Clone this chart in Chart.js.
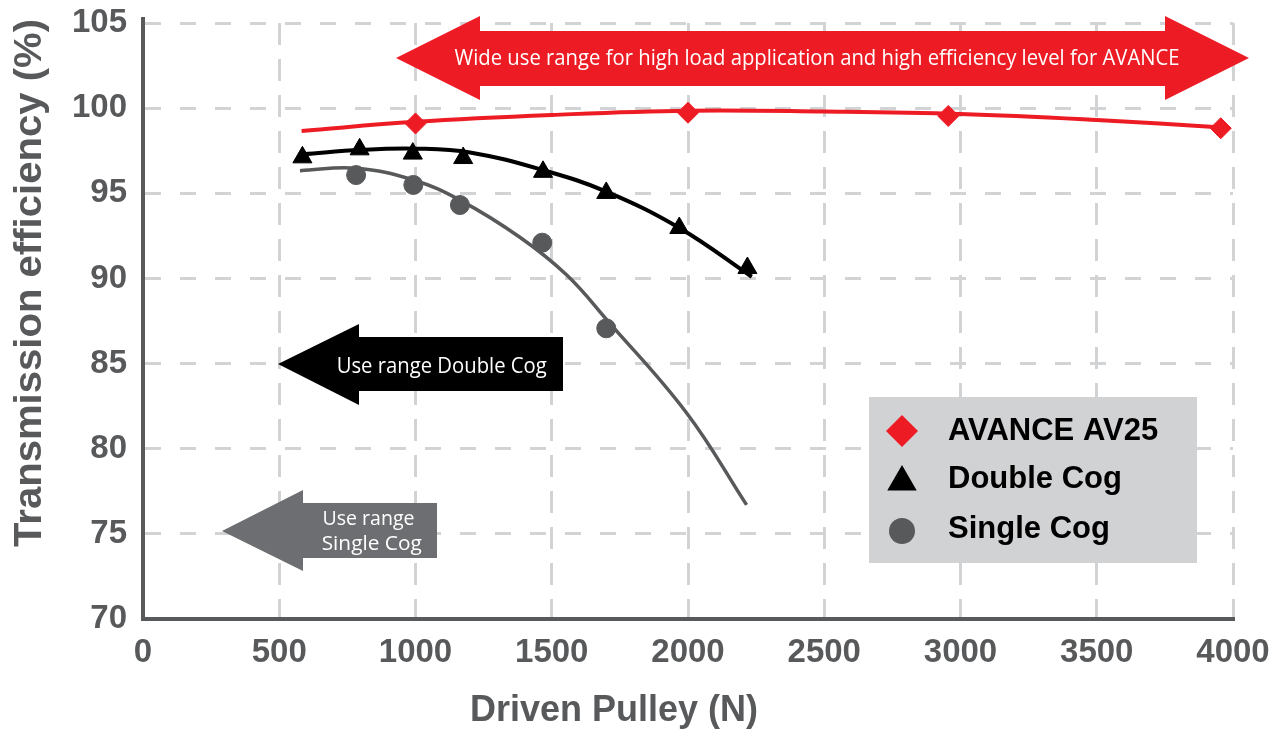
<!DOCTYPE html>
<html><head><meta charset="utf-8">
<script src="https://cdn.jsdelivr.net/npm/chart.js@4.4.1/dist/chart.umd.min.js"></script>
<style>html,body{margin:0;padding:0;background:#fff;overflow:hidden}#wrap{width:1288px;height:729px}</style>
</head><body><div id="wrap"><canvas id="c" width="1288" height="729"></canvas></div>
<script>
// ---- data ----
const seriesNames = ['AVANCE AV25', 'Double Cog', 'Single Cog'];
const xTicks = [0, 500, 1000, 1500, 2000, 2500, 3000, 3500, 4000];
const yTicks = [70, 75, 80, 85, 90, 95, 100, 105];
const xTitle = 'Driven Pulley (N)';
const yTitle = 'Transmission efficiency (%)';

const avanceX = [1000, 2000, 2955, 3955];
const avanceY = [99.1, 99.73, 99.54, 98.82];
const doubleX = [585, 795, 990, 1175, 1468, 1700, 1968, 2218];
const doubleY = [97.11, 97.58, 97.33, 97.07, 96.26, 95.02, 92.96, 90.61];
const singleX = [782, 992, 1163, 1465, 1700];
const singleY = [96.07, 95.49, 94.31, 92.10, 87.07];

// fitted trend curves
const avanceFitX = [582, 1000, 1500, 2000, 2500, 3000, 3500, 3960];
const avanceFitY = [98.66, 99.2, 99.6, 99.85, 99.8, 99.65, 99.3, 98.87];
const doubleFitX = [590, 800, 1000, 1200, 1470, 1700, 1970, 2234];
const doubleFitY = [97.3, 97.55, 97.62, 97.4, 96.35, 95.1, 92.95, 90.1];
const singleFitX = [576, 782, 992, 1163, 1383, 1555, 1702, 1995, 2215];
const singleFitY = [96.33, 96.47, 95.78, 94.6, 92.42, 90.2, 87.57, 82.1, 76.7];

const noteWide = 'Wide use range for high load application and high efficiency level for AVANCE';
const noteDouble = 'Use range Double Cog';
const noteSingle = ['Use range', 'Single Cog'];

// ---- styles ----
const RED = '#ed1c24', BLACK = '#000000', GREY = '#58595b', AXIS = '#58595b', GRID = '#d1d3d4';
const zip = (xs, ys) => xs.map((v, i) => ({x: v, y: ys[i]}));

function markerPath(ctx, style, x, y, r) {
  ctx.beginPath();
  if (style === 'rectRot') {
    ctx.moveTo(x, y - r); ctx.lineTo(x + r, y); ctx.lineTo(x, y + r); ctx.lineTo(x - r, y);
  } else if (style === 'triangle') {
    for (let k = 0; k < 3; k++) {
      const a = k * 2 * Math.PI / 3;
      const px = x + Math.sin(a) * r, py = y - Math.cos(a) * r;
      k ? ctx.lineTo(px, py) : ctx.moveTo(px, py);
    }
  } else {
    ctx.arc(x, y, r, 0, Math.PI * 2);
  }
  ctx.closePath();
}

function fitText(ctx, text, x, baseY, font, targetW, align) {
  ctx.font = font;
  const w = ctx.measureText(text).width;
  const s = targetW / w;
  ctx.save();
  ctx.translate(x, baseY);
  ctx.scale(s, 1);
  ctx.textAlign = align || 'center';
  ctx.textBaseline = 'alphabetic';
  ctx.fillText(text, 0, 0);
  ctx.restore();
}

const decor = {
  id: 'decor',
  beforeDatasetsDraw(chart) {
    const ctx = chart.ctx;
    ctx.save();
    ctx.fillStyle = AXIS;
    ctx.fillRect(chart.chartArea.left - 2, chart.chartArea.top - 6, 4, 8);
    // red double arrow
    ctx.fillStyle = RED;
    ctx.beginPath();
    ctx.moveTo(396, 58); ctx.lineTo(480, 16); ctx.lineTo(480, 31); ctx.lineTo(1165, 31);
    ctx.lineTo(1165, 16); ctx.lineTo(1249, 58); ctx.lineTo(1165, 100); ctx.lineTo(1165, 86);
    ctx.lineTo(480, 86); ctx.lineTo(480, 100); ctx.closePath(); ctx.fill();
    ctx.fillStyle = '#ffffff';
    fitText(ctx, noteWide, 817, 65, '22px "Open Sans"', 725);
    // black arrow
    ctx.fillStyle = BLACK;
    ctx.beginPath();
    ctx.moveTo(278, 364); ctx.lineTo(359, 324); ctx.lineTo(359, 337); ctx.lineTo(563, 337);
    ctx.lineTo(563, 391); ctx.lineTo(359, 391); ctx.lineTo(359, 405); ctx.closePath(); ctx.fill();
    ctx.fillStyle = '#ffffff';
    fitText(ctx, noteDouble, 441.7, 373, '22px "Open Sans"', 210);
    // grey arrow
    ctx.fillStyle = '#6d6e71';
    ctx.beginPath();
    ctx.moveTo(222, 531); ctx.lineTo(303, 490); ctx.lineTo(303, 503); ctx.lineTo(437, 503);
    ctx.lineTo(437, 558); ctx.lineTo(303, 558); ctx.lineTo(303, 571); ctx.closePath(); ctx.fill();
    ctx.fillStyle = '#ffffff';
    fitText(ctx, noteSingle[0], 322.5, 525, '20px "Open Sans"', 92, 'left');
    fitText(ctx, noteSingle[1], 321.7, 550, '20px "Open Sans"', 100, 'left');
    ctx.restore();
  },
  afterDraw(chart) {
    const ctx = chart.ctx;
    ctx.save();
    ctx.fillStyle = AXIS;
    fitText(ctx, xTitle, 614, 721, 'bold 37px "Liberation Sans"', 288);
    ctx.save();
    ctx.translate(41, 283);
    ctx.rotate(-Math.PI / 2);
    fitText(ctx, yTitle, 0, 0, 'bold 38px "Liberation Sans"', 528);
    ctx.restore();
    // legend box
    ctx.fillStyle = '#d1d2d4';
    ctx.fillRect(869, 397, 328, 166);
    const rows = [431, 482, 531];
    const bases = [440, 488, 538];
    const radii = [16, 17, 13];
    [0, 1, 2].forEach(i => {
      const ds = chart.data.datasets[i];
      ctx.fillStyle = ds.backgroundColor;
      markerPath(ctx, ds.pointStyle, 902, rows[i], radii[i]);
      ctx.fill();
      ctx.fillStyle = '#000000';
      ctx.font = 'bold 31px "Liberation Sans"';
      ctx.textAlign = 'left';
      ctx.textBaseline = 'alphabetic';
      ctx.fillText(ds.label, 948, bases[i]);
    });
    ctx.restore();
  }
};

const chart = new Chart(document.getElementById('c'), {
  type: 'scatter',
  data: {
    datasets: [
      {label: seriesNames[0], data: zip(avanceX, avanceY), pointStyle: 'rectRot', pointRadius: 10.5,
       backgroundColor: RED, borderColor: RED, borderWidth: 1, order: 0},
      {label: seriesNames[1], data: zip(doubleX, doubleY), pointStyle: 'triangle', pointRadius: 11,
       backgroundColor: BLACK, borderColor: BLACK, borderWidth: 1, order: 0},
      {label: seriesNames[2], data: zip(singleX, singleY), pointStyle: 'circle', pointRadius: 9.5,
       backgroundColor: GREY, borderColor: GREY, borderWidth: 1, order: 0},
      {label: seriesNames[0] + ' fit', data: zip(avanceFitX, avanceFitY), showLine: true, pointRadius: 0,
       borderColor: RED, borderWidth: 4, tension: 0.4, order: 1},
      {label: seriesNames[1] + ' fit', data: zip(doubleFitX, doubleFitY), showLine: true, pointRadius: 0,
       borderColor: BLACK, borderWidth: 4, tension: 0.4, order: 1},
      {label: seriesNames[2] + ' fit', data: zip(singleFitX, singleFitY), showLine: true, pointRadius: 0,
       borderColor: GREY, borderWidth: 3.5, tension: 0.4, order: 1}
    ]
  },
  options: {
    responsive: false,
    animation: false,
    events: [],
    layout: {padding: {top: 23, right: 55, left: 0, bottom: 0}},
    plugins: {legend: {display: false}, tooltip: {enabled: false}},
    scales: {
      x: {
        type: 'linear', min: xTicks[0], max: xTicks[xTicks.length - 1],
        afterBuildTicks: s => { s.ticks = xTicks.map(v => ({value: v})); },
        afterFit: s => { s.height = 110; },
        grid: {color: GRID, lineWidth: 3, drawTicks: true, tickLength: 14, tickColor: 'rgba(0,0,0,0)'},
        border: {color: AXIS, width: 4, dash: [22, 14]},
        ticks: {padding: 0, color: AXIS, font: {family: 'Liberation Sans', size: 33, weight: 'bold'},
                maxRotation: 0, autoSkip: false, callback: v => String(v)}
      },
      y: {
        type: 'linear', min: yTicks[0], max: yTicks[yTicks.length - 1],
        afterBuildTicks: s => { s.ticks = yTicks.map(v => ({value: v})); },
        afterFit: s => { s.width = 143; },
        grid: {color: GRID, lineWidth: 3, drawTicks: true, tickLength: 16, tickColor: 'rgba(0,0,0,0)'},
        border: {color: AXIS, width: 4, dash: [16, 19]},
        ticks: {padding: 0, color: AXIS, font: {family: 'Liberation Sans', size: 33, weight: 'bold'},
                callback: v => String(v)}
      }
    }
  },
  plugins: [decor]
});
</script></body></html>
